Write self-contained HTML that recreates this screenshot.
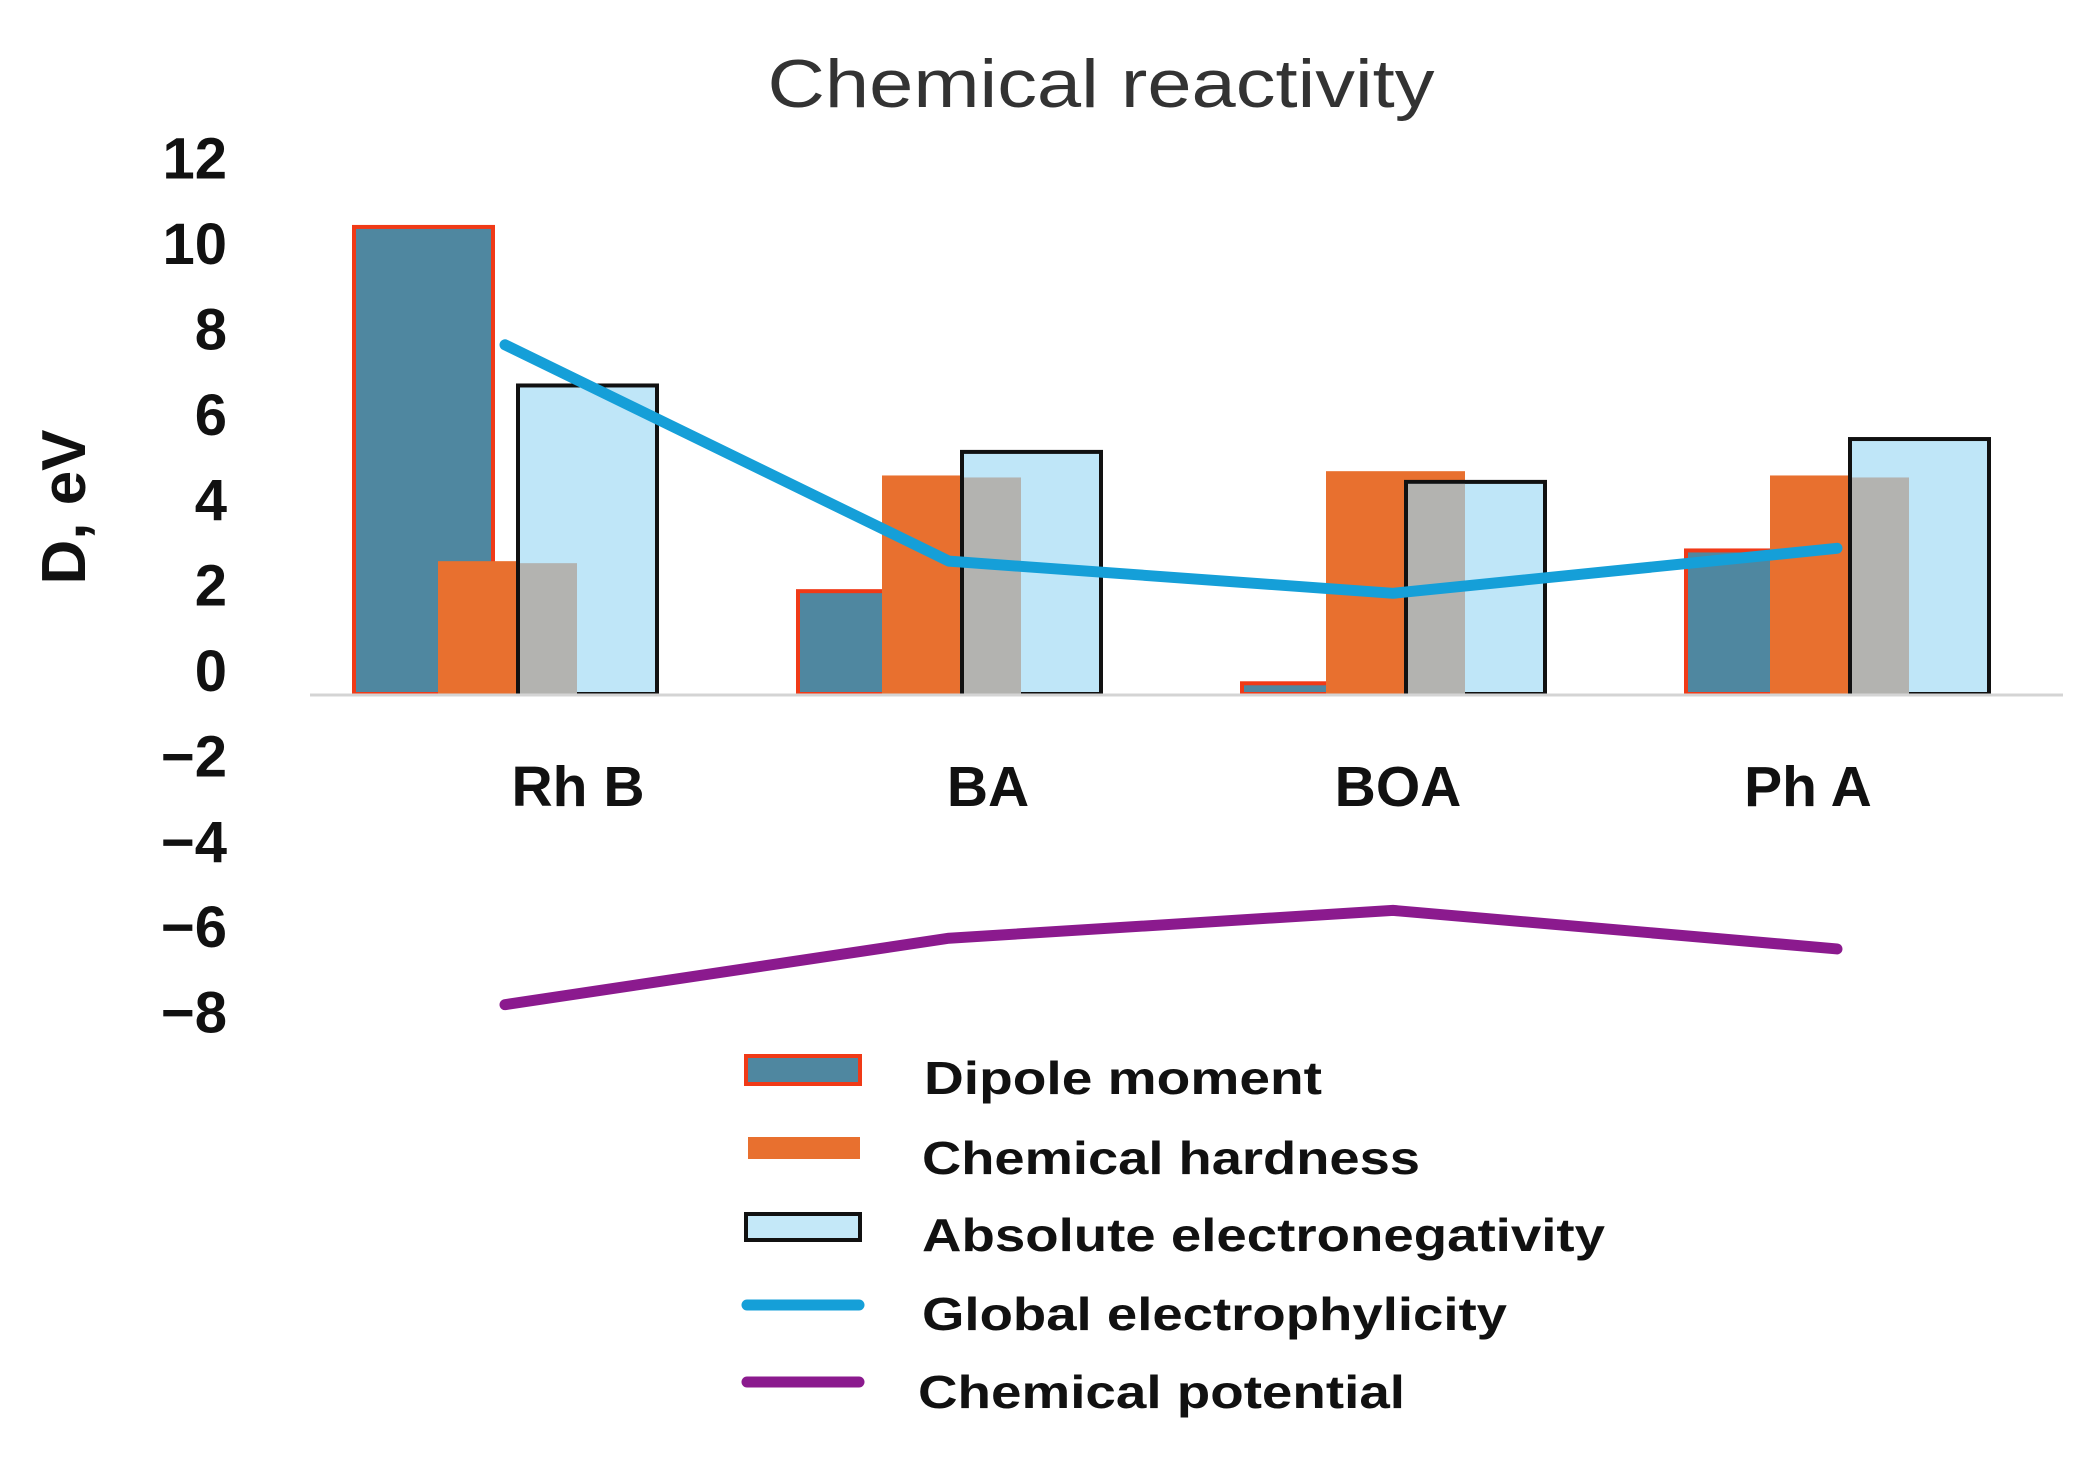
<!DOCTYPE html>
<html><head><meta charset="utf-8"><style>
html,body{margin:0;padding:0;background:#fff;}
svg{display:block;font-family:"Liberation Sans",Arial,sans-serif;}
</style></head><body>
<svg id="chart" width="2093" height="1470" viewBox="0 0 2093 1470" xmlns="http://www.w3.org/2000/svg">
<text x="1101" y="107" font-size="68" fill="#333" text-anchor="middle" textLength="667" lengthAdjust="spacingAndGlyphs">Chemical reactivity</text>
<text transform="translate(85,507) rotate(-90)" font-size="62" font-weight="bold" fill="#111" text-anchor="middle">D, eV</text>
<g id="ticks"></g>
<g id="bars"></g>
<line x1="310" y1="695" x2="2063" y2="695" stroke="#d4d4d4" stroke-width="3"/>
<g id="cats"></g>
<g id="lines"></g>
<g>
  <g>
    <rect x="746" y="1056" width="114" height="28" fill="#4f87a0" stroke="#f03a17" stroke-width="4"/>
    <text x="924" y="1094" font-size="46" font-weight="bold" fill="#111" textLength="398" lengthAdjust="spacingAndGlyphs">Dipole moment</text>
  </g>
  <g>
    <rect x="748" y="1137" width="112" height="22" fill="#e8702f"/>
    <text x="922" y="1174" font-size="46" font-weight="bold" fill="#111" textLength="498" lengthAdjust="spacingAndGlyphs">Chemical hardness</text>
  </g>
  <g>
    <rect x="746" y="1214" width="114" height="26" fill="#c4e8f8" stroke="#111" stroke-width="4"/>
    <text x="922" y="1251" font-size="46" font-weight="bold" fill="#111" textLength="683" lengthAdjust="spacingAndGlyphs">Absolute electronegativity</text>
  </g>
  <g>
    <line x1="747" y1="1305" x2="859" y2="1305" stroke="#159fd8" stroke-width="11" stroke-linecap="round"/>
    <text x="922" y="1330" font-size="46" font-weight="bold" fill="#111" textLength="585" lengthAdjust="spacingAndGlyphs">Global electrophylicity</text>
  </g>
  <g>
    <line x1="747" y1="1382" x2="859" y2="1382" stroke="#8b1a8e" stroke-width="11" stroke-linecap="round"/>
    <text x="918" y="1408" font-size="46" font-weight="bold" fill="#111" textLength="487" lengthAdjust="spacingAndGlyphs">Chemical potential</text>
  </g>
</g>
</svg>
<script>
const categories = ["Rh B", "BA", "BOA", "Ph A"];
const dipole = [10.9, 2.4, 0.25, 3.35];
const hardness = [3.1, 5.1, 5.2, 5.1];
const electroneg = [7.2, 5.65, 4.95, 5.95];
const electrophil = [8.15, 3.1, 2.35, 3.4];
const potential = [-7.25, -5.7, -5.05, -5.95];
const tickValues = [12, 10, 8, 6, 4, 2, 0, -2, -4, -6, -8];
const tickLabels = ["12", "10", "8", "6", "4", "2", "0", "\u22122", "\u22124", "\u22126", "\u22128"];

const NS = "http://www.w3.org/2000/svg";
const ZERO = 694, UNIT = 42.85;
function yv(v){ return ZERO - v*UNIT; }
function ylab(v){ return 670 - v*42.7; }
const GSTART = 354, GSTEP = 444, BW = 139;
function gx(i){ return GSTART + i*GSTEP; }
function lx(i){ return 578 + i*410; }
function mk(tag, attrs, parent){
  const e = document.createElementNS(NS, tag);
  for (const k in attrs) e.setAttribute(k, attrs[k]);
  parent.appendChild(e); return e;
}
const ticksG = document.getElementById('ticks');
tickValues.forEach((v,i)=>{
  const t = mk('text', {x:227, y:ylab(v)+21, 'font-size':58, 'font-weight':'bold', fill:'#111', 'text-anchor':'end'}, ticksG);
  
  
  t.textContent = tickLabels[i];
});
const barsG = document.getElementById('bars');
categories.forEach((c,i)=>{
  const x0 = gx(i);
  const d = mk('rect', {x:x0, y:yv(dipole[i]), width:BW, height:ZERO-yv(dipole[i]), fill:'#4f87a0', stroke:'#f03a17', 'stroke-width':4}, barsG);
  
  
  const ox = x0 + 84;
  const h = mk('rect', {x:ox, y:yv(hardness[i]), width:BW, height:ZERO-yv(hardness[i]), fill:'#e8702f'}, barsG);
  
  
  const bx = x0 + 164;
  const l = mk('rect', {x:bx, y:yv(electroneg[i]), width:BW, height:ZERO-yv(electroneg[i]), fill:'#bfe6f8', stroke:'#111', 'stroke-width':4}, barsG);
  
  
  const ov = Math.min(hardness[i], electroneg[i]);
  const g = mk('rect', {x:bx+2, y:yv(ov)+2, width:(ox+BW)-(bx+2), height:ZERO-yv(ov)-2, fill:'#b3b3b0'}, barsG);
  
  
  const cat = mk('text', {x:lx(i), y:806, 'font-size':57, 'font-weight':'bold', fill:'#111', 'text-anchor':'middle'}, document.getElementById('cats'));
  
  
  cat.textContent = c;
});
const linesG = document.getElementById('lines');
function line(vals, color, name){
  const pts = vals.map((v,i)=>(gx(i)+151)+','+yv(v)).join(' ');
  const p = mk('polyline', {points:pts, fill:'none', stroke:color, 'stroke-width':11, 'stroke-linecap':'round', 'stroke-linejoin':'round'}, linesG);
  
  
}
line(electrophil, '#159fd8', 'line-electrophilicity');
line(potential, '#8b1a8e', 'line-chemical-potential');
</script>
</body></html>
